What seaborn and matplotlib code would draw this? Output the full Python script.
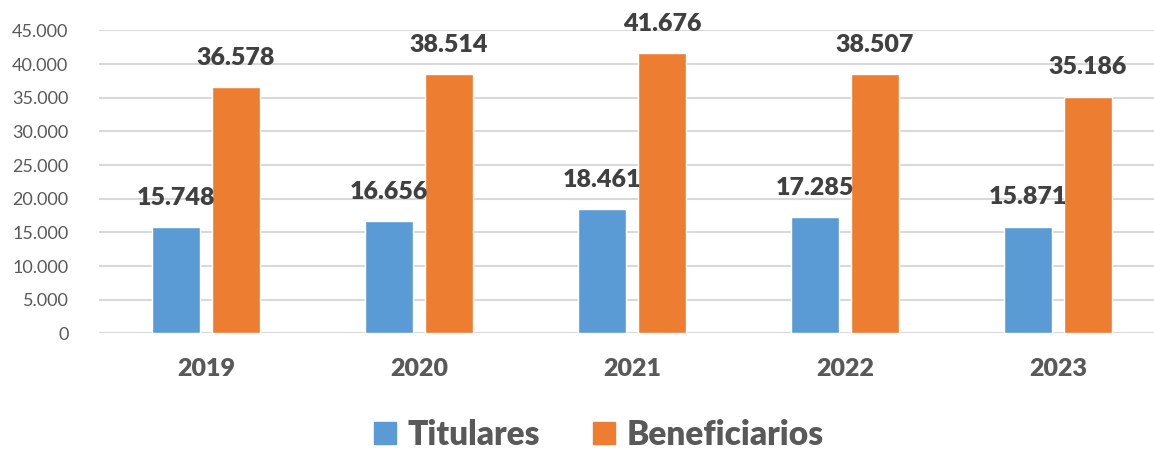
import pandas as pd
import seaborn as sns
import matplotlib.pyplot as plt
from matplotlib.patches import Patch

# Data
years = ['2019', '2020', '2021', '2022', '2023']
titulares = [15748, 16656, 18461, 17285, 15871]
beneficiarios = [36578, 38514, 41676, 38507, 35186]
series_names = ['Titulares', 'Beneficiarios']
colors = ['#5B9BD5', '#ED7D31']

df = pd.DataFrame({
    'year': years * 2,
    'value': titulares + beneficiarios,
    'serie': [series_names[0]] * len(years) + [series_names[1]] * len(years),
})

sns.set_style('white')
plt.rcParams['font.family'] = ['Lato', 'DejaVu Sans']

fig = plt.figure(figsize=(11.54, 4.49), dpi=100)
ax = fig.add_axes([99 / 1154, 1 - 333.3 / 449, 1 - 99 / 1154, (333.3 - 30.5) / 449])

sns.barplot(data=df, x='year', y='value', hue='serie', palette=colors,
            width=0.563, gap=0.2, legend=False, ax=ax, saturation=1)

# value labels
def fmt(v):
    return f'{v:,}'.replace(',', '.')

for cont in ax.containers:
    for bar in cont:
        h = bar.get_height()
        ax.annotate(fmt(int(h)), (bar.get_x() + bar.get_width() / 2, h),
                    xytext=(0, 21), textcoords='offset points',
                    ha='center', va='center', fontsize=18, fontweight='heavy',
                    color='#404040')

ax.set_ylim(0, 45000)
ax.set_xlim(-0.502, 4.45)
ax.set_yticks(range(0, 45001, 5000))
ax.set_yticklabels([fmt(v) for v in range(0, 45001, 5000)])
ax.yaxis.grid(True, color='#D9D9D9', linewidth=1.5)
ax.set_axisbelow(True)
for s in ax.spines.values():
    s.set_visible(False)
ax.tick_params(axis='y', length=0, pad=22, labelsize=13, labelcolor='#595959')
ax.tick_params(axis='x', length=0, pad=18, labelsize=18, labelcolor='#595959')
for lbl in ax.get_xticklabels():
    lbl.set_fontweight('heavy')
ax.set_xlabel('')
ax.set_ylabel('')

handles = [Patch(color=c, label=n) for c, n in zip(colors, series_names)]
fig.legend(handles=handles, loc='center', bbox_to_anchor=(0.519, 1 - 435 / 449),
           ncol=2, frameon=False, handlelength=0.65, handleheight=0.65,
           handletextpad=0.35, columnspacing=1.6,
           prop={'size': 24, 'weight': 'heavy'}, labelcolor='#595959')

fig.savefig('out.png', dpi=100)
